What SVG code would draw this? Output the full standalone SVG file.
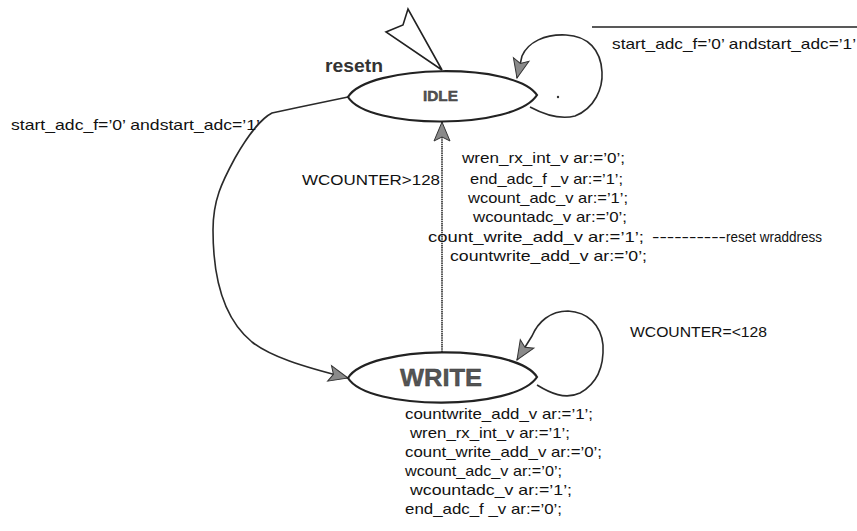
<svg xmlns="http://www.w3.org/2000/svg" width="857" height="531" viewBox="0 0 857 531">
  <style>
    .t { font-family: "Liberation Sans", Arial, sans-serif; font-size: 15px; fill: #111; }
    .state { fill: #fff; stroke: #222; stroke-width: 2.2; }
    .slabel { font-family: "Liberation Sans", Arial, sans-serif; font-weight: bold; fill: #555; stroke: #333; stroke-width: 0.4; }
    .edge { fill: none; stroke: #2a2a2a; stroke-width: 1.6; stroke-linejoin: round; }
    .vert { fill: none; stroke: #555; stroke-width: 2; stroke-dasharray: 1.5 0.7; }
  </style>
  <defs>
    <marker id="arr" markerUnits="userSpaceOnUse" markerWidth="22" markerHeight="18" refX="19" refY="8" orient="auto" overflow="visible">
      <path d="M0,0 L19,8 L0,16 L4,8 Z" fill="#8a8a8a" stroke="#333" stroke-width="1"/>
    </marker>
  </defs>

  <!-- transitions -->
  <g id="connectors">
    <!-- IDLE -> WRITE, left arc -->
    <path class="edge" d="M348,97 L300,107 L272,113 C262,118 248,135 235,158 C222,182 213,200 213,230 C213,280 225,320 252,342 C270,356 300,366 348,378" marker-end="url(#arr)"/>
    <!-- WRITE -> IDLE -->
    <path class="vert" d="M442,352 L442,122" marker-end="url(#arr)"/>
    <!-- IDLE self loop -->
    <path class="edge" d="M530,107 C545,115 560,120 575,116 C595,108 603,88 602,72 C601,50 588,36 566,35 C545,34 528,42 522,56 L517,78" marker-end="url(#arr)"/>
    <!-- WRITE self loop -->
    <path class="edge" d="M537,385 C550,393 565,400 580,393 C598,383 604,365 603,345 C601,325 588,312 568,311 C550,311 538,322 532,336 L517,360" marker-end="url(#arr)"/>
    <!-- reset entry -->
    <polygon points="442,70 408,9 403,25 386,32" fill="#fff" stroke="#222" stroke-width="1.6" stroke-linejoin="miter"/>
  </g>

  <g id="IDLE">
    <path class="state" d="M348,97 C368,64 515,62 537,95 C515,130 368,130 348,97 Z"/>
    <text class="slabel" x="423" y="101" font-size="14" textLength="35" lengthAdjust="spacingAndGlyphs">IDLE</text>
  </g>

  <g id="WRITE">
    <path class="state" d="M348,378 C368,345 515,343 537,377 C515,411 368,411 348,378 Z"/>
    <text class="slabel" x="400" y="386" font-size="24" textLength="82" lengthAdjust="spacingAndGlyphs">WRITE</text>
  </g>

  <circle cx="558" cy="97" r="1.2" fill="#333"/>

  <!-- reset label -->
  <text x="325" y="72" font-family="'Liberation Sans', Arial, sans-serif" font-weight="bold" font-size="18" fill="#333" textLength="58" lengthAdjust="spacingAndGlyphs">resetn</text>

  <!-- transition conditions -->
  <text class="t" x="11" y="130" font-size="16" textLength="249" lengthAdjust="spacingAndGlyphs">start_adc_f=’0’ andstart_adc=’1’</text>
  <line x1="592" y1="27" x2="857" y2="27" stroke="#222" stroke-width="1.5"/>
  <text class="t" x="612" y="49" font-size="16" textLength="244" lengthAdjust="spacingAndGlyphs">start_adc_f=’0’ andstart_adc=’1’</text>
  <text class="t" x="302" y="185" font-size="16" textLength="138" lengthAdjust="spacingAndGlyphs">WCOUNTER&gt;128</text>
  <text class="t" x="630" y="337" font-size="16" textLength="137" lengthAdjust="spacingAndGlyphs">WCOUNTER=&lt;128</text>

  <!-- actions on WRITE -> IDLE -->
  <text class="t" x="462" y="163" textLength="163" lengthAdjust="spacingAndGlyphs">wren_rx_int_v ar:=’0’;</text>
  <text class="t" x="470" y="184" textLength="153" lengthAdjust="spacingAndGlyphs">end_adc_f _v ar:=’1’;</text>
  <text class="t" x="468" y="203" textLength="160" lengthAdjust="spacingAndGlyphs">wcount_adc_v ar:=’1’;</text>
  <text class="t" x="473" y="222" textLength="154" lengthAdjust="spacingAndGlyphs">wcountadc_v ar:=’0’;</text>
  <text class="t" x="428" y="242" textLength="216" lengthAdjust="spacingAndGlyphs">count_write_add_v ar:=’1’;</text>
  <text class="t" x="652" y="242" textLength="74" lengthAdjust="spacingAndGlyphs">----------</text>
  <text class="t" x="726" y="242" font-size="14" textLength="96" lengthAdjust="spacingAndGlyphs">reset wraddress</text>
  <text class="t" x="450" y="261" textLength="197" lengthAdjust="spacingAndGlyphs">countwrite_add_v ar:=’0’;</text>

  <!-- WRITE state actions -->
  <text class="t" x="405" y="419" textLength="188" lengthAdjust="spacingAndGlyphs">countwrite_add_v ar:=’1’;</text>
  <text class="t" x="410" y="438" textLength="160" lengthAdjust="spacingAndGlyphs">wren_rx_int_v ar:=’1’;</text>
  <text class="t" x="405" y="457" textLength="197" lengthAdjust="spacingAndGlyphs">count_write_add_v ar:=’0’;</text>
  <text class="t" x="405" y="476" textLength="157" lengthAdjust="spacingAndGlyphs">wcount_adc_v ar:=’0’;</text>
  <text class="t" x="410" y="495" textLength="162" lengthAdjust="spacingAndGlyphs">wcountadc_v ar:=’1’;</text>
  <text class="t" x="405" y="514" textLength="157" lengthAdjust="spacingAndGlyphs">end_adc_f _v ar:=’0’;</text>
</svg>
